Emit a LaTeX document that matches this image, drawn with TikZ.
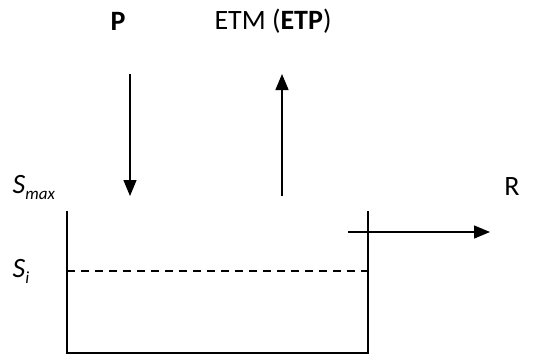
\documentclass[tikz,border=0pt]{standalone}
\usepackage{fontspec}
\setmainfont{Carlito}
\usetikzlibrary{arrows.meta}

\newcommand{\lowsub}[1]{\raisebox{-6pt}{\fontsize{17pt}{19pt}\selectfont\itshape #1}}

\begin{document}
\begin{tikzpicture}[x=1pt,y=-1pt,line width=1.4pt,
    flux/.style={-{Triangle[length=16pt,width=13pt]}},
    lbl/.style={font=\fontsize{28pt}{32pt}\selectfont,inner sep=0pt}]
    \useasboundingbox (0,0) rectangle (543,356);

    % tank
    \draw (67,211) -- (67,353) -- (368,353) -- (368,211);
    \draw[dashed,dash pattern=on 8pt off 6pt] (67,271) -- (368,271);

    % labels
    \node[lbl] (p) at (118,21) {\textbf{P}};
    \node[lbl] (etm) at (273,21) {ETM (\textbf{ETP})};
    \node[lbl,anchor=base west] (smax) at (12,193) {\textit{S}\lowsub{max}};
    \node[lbl,anchor=base west] (si) at (12,277) {\textit{S}\lowsub{i}};
    \node[lbl] (r) at (512,187) {R};

    % fluxes
    \coordinate (pin) at (130,74);   \coordinate (pout) at (130,196);
    \coordinate (ein) at (282,196);  \coordinate (eout) at (282,74);
    \coordinate (rin) at (348,232);  \coordinate (rout) at (490,232);
    \draw[flux] (pin) -- (pout);
    \draw[flux] (ein) -- (eout);
    \draw[flux] (rin) -- (rout);
\end{tikzpicture}
\end{document}
